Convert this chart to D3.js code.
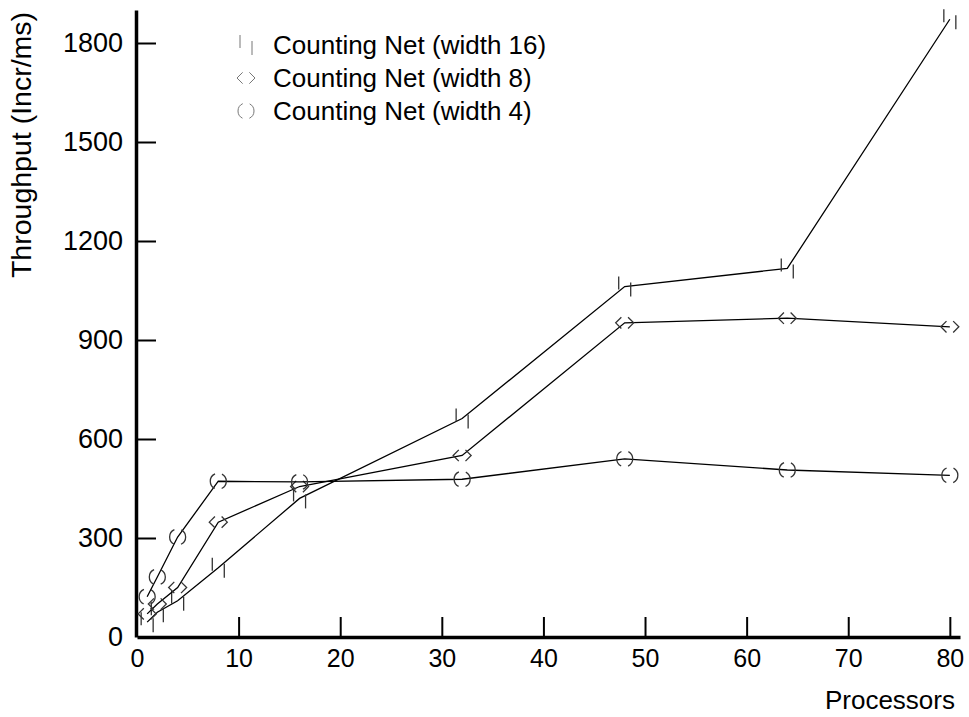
<!DOCTYPE html>
<meta charset="utf-8">
<html>
<script src="https://d3js.org/d3.v7.min.js"></script>
<style>
  body { margin: 0; background: white; }
  text { font-family: "Liberation Sans", Arial, sans-serif; fill: black; }
</style>
<body>
<div id="chart"></div>
<script>

    // processors on the x axis
    const procs = [1, 2, 4, 8, 16, 32, 48, 64, 80];

    // throughput, increments per ms
    const width16 = [45, 75, 110, 210, 420, 662, 1062, 1117, 1872];
    const width8  = [70, 100, 150, 348, 456, 550, 952, 966, 940];
    const width4  = [122, 182, 303, 472, 470, 478, 540, 506, 490];

    const seriesNames = ["Counting Net (width 16)", "Counting Net (width 8)", "Counting Net (width 4)"];
    const xTicks = [0, 10, 20, 30, 40, 50, 60, 70, 80];
    const yTicks = [0, 300, 600, 900, 1200, 1500, 1800];

    const W = 969, H = 717;

    const svg = d3.select("#chart")
      .append("svg")
        .attr("width", W)
        .attr("height", H);

    const x = d3.scaleLinear().domain([0, 81]).range([137, 960]);
    const y = d3.scaleLinear().domain([0, 1900]).range([637, 10]);

    // x axis, ticks pointing up
    const xAxis = svg.append("g")
      .attr("transform", `translate(0, ${y(0)})`)
      .call(d3.axisBottom(x).tickValues(xTicks).tickSize(-20).tickSizeOuter(0).tickPadding(12));
    xAxis.select(".domain").attr("stroke-width", 3.5);
    xAxis.selectAll(".tick line").attr("stroke-width", 2);
    xAxis.selectAll(".tick").filter(d => d === 0).select("line").remove();
    xAxis.selectAll("text").style("font-size", "25px").attr("font-family", null);

    // y axis, ticks pointing right
    const yAxis = svg.append("g")
      .attr("transform", `translate(${x(0) - 1}, 0)`)
      .call(d3.axisLeft(y).tickValues(yTicks).tickFormat(d3.format("d"))
        .tickSize(-20).tickSizeOuter(0).tickPadding(13));
    yAxis.select(".domain").attr("stroke-width", 3.5);
    yAxis.selectAll(".tick line").attr("stroke-width", 2);
    yAxis.selectAll(".tick").filter(d => d === 0).select("line").remove();
    yAxis.selectAll("text").style("font-size", "27px").attr("font-family", null);

    // axis titles
    svg.append("text")
      .attr("x", 955)
      .attr("y", 709)
      .attr("text-anchor", "end")
      .style("font-size", "26px")
      .text("Processors");

    svg.append("text")
      .attr("transform", "translate(31, 145) rotate(-90)")
      .attr("text-anchor", "middle")
      .style("font-size", "28.5px")
      .text("Throughput (Incr/ms)");

    // marker shapes, drawn broken like the scanned figure
    function drawMarker(g, kind) {
      if (kind === 0) {
        g.append("line").attr("x1", -6).attr("x2", -6).attr("y1", -10).attr("y2", 3);
        g.append("line").attr("x1", 6).attr("x2", 6).attr("y1", -4).attr("y2", 10);
      } else if (kind === 1) {
        g.append("path")
          .attr("d", "M9,0 L0,9 L-9,0 L0,-9 Z")
          .attr("stroke-dasharray", "16 9.45")
          .attr("stroke-dashoffset", 8);
      } else {
        g.append("circle")
          .attr("r", 8)
          .attr("stroke-dasharray", "18 7.13")
          .attr("stroke-dashoffset", 9);
      }
      g.attr("fill", "none").attr("stroke", "#333").attr("stroke-width", 1.3);
    }

    const allSeries = [width16, width8, width4];

    const line = d3.line()
      .x((d, i) => x(procs[i]))
      .y(d => y(d));

    allSeries.forEach(function(vals, k) {
      svg.append("path")
        .datum(vals)
        .attr("d", line)
        .attr("fill", "none")
        .attr("stroke", "black")
        .attr("stroke-width", 1.3);

      svg.selectAll(".m" + k)
        .data(vals)
        .join("g")
        .attr("class", "m" + k)
        .attr("transform", (d, i) => `translate(${x(procs[i])}, ${y(d)})`)
        .each(function() { drawMarker(d3.select(this), k); });
    });

    // legend
    seriesNames.forEach(function(name, k) {
      const ly = 45 + k * 33;
      const mg = svg.append("g").attr("transform", `translate(246, ${ly})`);
      drawMarker(mg, k);
      mg.attr("stroke", "#777").attr("stroke-width", 1);
      svg.append("text")
        .attr("x", 273)
        .attr("y", ly + 9)
        .style("font-size", "26px")
        .text(name);
    });

</script>
</body>
</html>
